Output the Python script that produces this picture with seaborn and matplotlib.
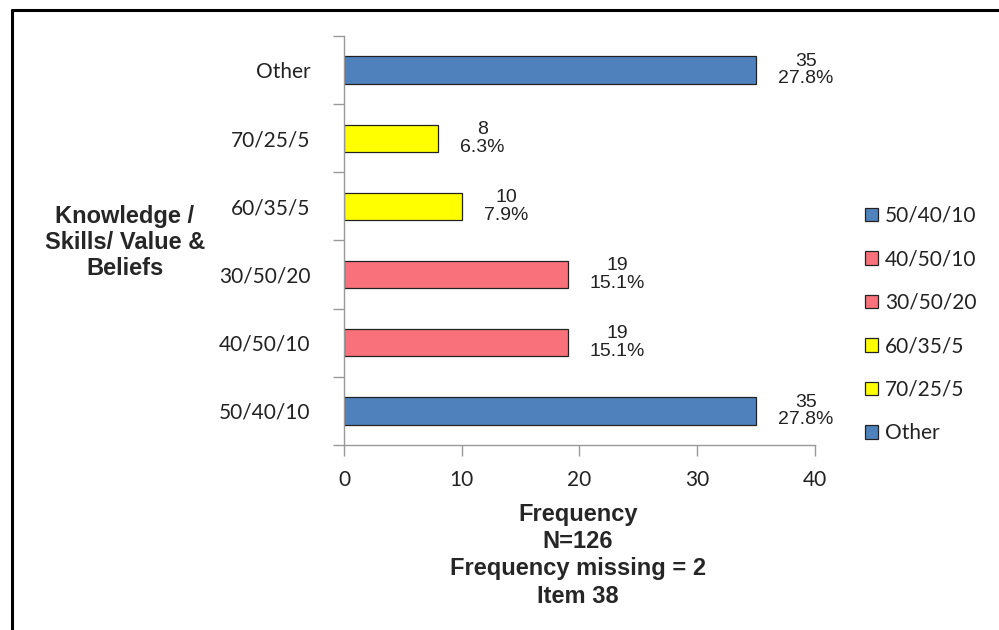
import matplotlib
matplotlib.use("Agg")
import matplotlib.pyplot as plt
import pandas as pd
import seaborn as sns
from matplotlib.lines import Line2D
from matplotlib.ticker import FixedLocator

# data, bottom to top as in the chart
categories = ["50/40/10", "40/50/10", "30/50/20", "60/35/5", "70/25/5", "Other"]
frequency = [35, 19, 19, 10, 8, 35]
percent = ["27.8%", "15.1%", "15.1%", "7.9%", "6.3%", "27.8%"]
colors = ["#4F81BD", "#F8717B", "#F8717B", "#FFFF00", "#FFFF00", "#4F81BD"]

df = pd.DataFrame({"cat": categories, "freq": frequency, "pct": percent})
top_to_bottom = categories[::-1]

sns.set_style("white")
plt.rcParams["font.family"] = ["Liberation Sans", "DejaVu Sans"]

fig = plt.figure(figsize=(9.99, 6.3), dpi=100)
ax = fig.add_axes([0.3443, 0.2937, 0.4715, 0.6492])

sns.barplot(data=df, x="freq", y="cat", hue="cat", order=top_to_bottom,
            hue_order=categories, palette=dict(zip(categories, colors)),
            saturation=1, dodge=False, width=0.4, edgecolor="#222222", linewidth=0.9,
            legend=True, ax=ax)

ax.set_xlim(0, 40)
ax.set_ylim(5.5, -0.5)
ax.set_xticks([0, 10, 20, 30, 40])

# category ticks sit between the bars
ax.yaxis.set_minor_locator(FixedLocator([i - 0.5 for i in range(len(categories) + 1)]))
ax.tick_params(which="both", left=True, bottom=True)
ax.tick_params(axis="y", which="major", length=0, pad=24, labelsize=15)
ax.tick_params(axis="y", which="minor", length=8, width=1, color="#999999", direction="out")
ax.tick_params(axis="x", which="major", length=8, width=1, color="#999999",
               direction="out", pad=10, labelsize=15)
for lab in ax.get_xticklabels() + ax.get_yticklabels():
    lab.set_family(["Lato", "DejaVu Sans"])
    lab.set_color("#222222")

for s in ["top", "right"]:
    ax.spines[s].set_visible(False)
for s in ["left", "bottom"]:
    ax.spines[s].set_color("#999999")
    ax.spines[s].set_linewidth(1)

# data labels
for _, row in df.iterrows():
    ax.annotate(f"{row['freq']}\n{row['pct']}", xy=(row["freq"], top_to_bottom.index(row["cat"])),
                xytext=(16, 0), textcoords="offset points", ha="left", va="center",
                multialignment="center", fontsize=14, linespacing=1.05, color="#222222")

ax.set_xlabel("Frequency\nN=126\nFrequency missing = 2\nItem 38", fontsize=17,
              fontweight="bold", linespacing=1.23)
ax.xaxis.set_label_coords(0.497, -0.27)
ax.xaxis.label.set_va("center")
ax.set_ylabel("Knowledge /\nSkills/ Value &\nBeliefs", fontsize=17, fontweight="bold",
              rotation=0, ha="center", va="center", linespacing=1.19)
ax.yaxis.set_label_coords(-0.465, 0.495)

handles, labels = ax.get_legend_handles_labels()
for h in handles:
    h.set_edgecolor("#222222")
    h.set_linewidth(0.9)
leg = ax.legend(handles, labels, loc="center left", bbox_to_anchor=(865 / 999, 0.485),
                bbox_transform=fig.transFigure, frameon=False, borderpad=0,
                borderaxespad=0, handlelength=0.62, handleheight=0.62,
                handletextpad=0.35, labelspacing=1.13, prop={"family": "Lato", "size": 15})
for t in leg.get_texts():
    t.set_color("#222222")

# outer frame (top and left edges visible)
fig.add_artist(Line2D([12 / 999, 1.0], [1 - 10 / 630, 1 - 10 / 630], color="black", lw=2.2,
                      transform=fig.transFigure))
fig.add_artist(Line2D([12 / 999, 12 / 999], [1 - 10 / 630, 0], color="black", lw=2.2,
                      transform=fig.transFigure))

fig.savefig("out.png", dpi=100)
